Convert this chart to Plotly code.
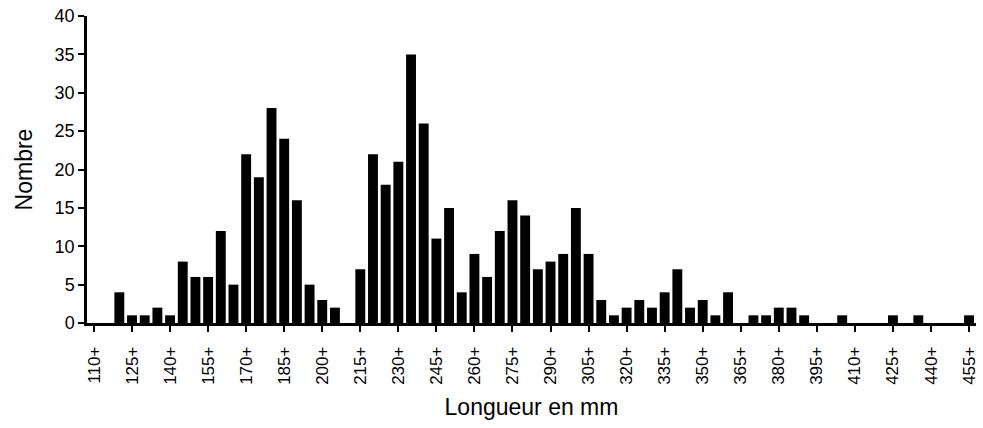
import plotly.graph_objects as go

categories = [f"{v}+" for v in range(110, 460, 5)]
counts = [0, 0, 4, 1, 1, 2, 1, 8, 6, 6,
          12, 5, 22, 19, 28, 24, 16, 5, 3, 2,
          0, 7, 22, 18, 21, 35, 26, 11, 15, 4,
          9, 6, 12, 16, 14, 7, 8, 9, 15, 9,
          3, 1, 2, 3, 2, 4, 7, 2, 3, 1,
          4, 0, 1, 1, 2, 2, 1, 0, 0, 1,
          0, 0, 0, 1, 0, 1, 0, 0, 0, 1]
tick_labels = categories[::3]
y_ticks = list(range(0, 45, 5))

fig = go.Figure(go.Bar(x=categories, y=counts, marker=dict(color="black", line=dict(width=0))))

fig.update_layout(
    width=983, height=428,
    margin=dict(l=87, r=4, t=16, b=105),
    plot_bgcolor="white", paper_bgcolor="white",
    bargap=0.22,
    showlegend=False,
    font=dict(family="Liberation Sans, Arial, sans-serif", color="black"),
)
fig.update_xaxes(
    type="category",
    tickmode="array", tickvals=tick_labels, ticktext=tick_labels,
    tickangle=-90, tickfont=dict(size=17),
    ticks="outside", ticklen=6, tickwidth=1.5, tickcolor="black",
    ticklabelstandoff=8,
    showline=True, linecolor="black", linewidth=2.5,
    showgrid=False, range=[-0.55, 69.55],
    title=dict(text="Longueur en mm", font=dict(size=23), standoff=16),
)
fig.update_yaxes(
    range=[0, 40], tickvals=y_ticks, tickfont=dict(size=18),
    ticks="outside", ticklen=6, tickwidth=1.5, tickcolor="black",
    showline=True, linecolor="black", linewidth=2.5,
    showgrid=False, zeroline=False,
    title=dict(text="Nombre", font=dict(size=23), standoff=16),
)

fig.write_html("out.html")
